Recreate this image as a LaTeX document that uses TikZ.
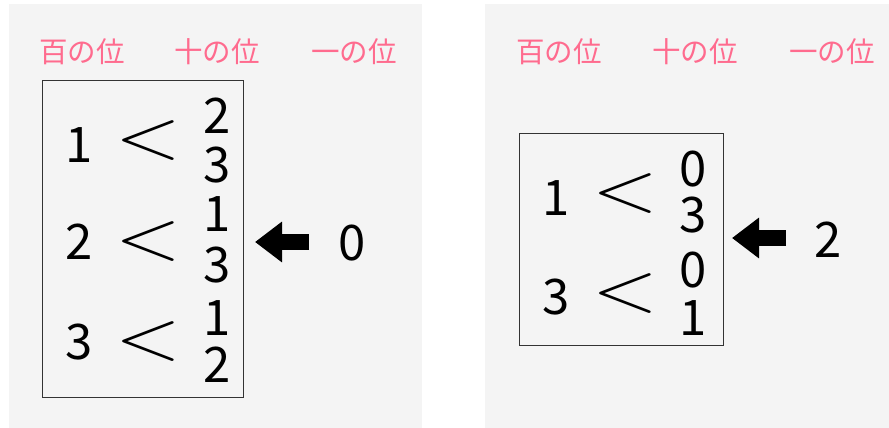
\documentclass[tikz,border=0pt]{standalone}
\usepackage{fontspec}
\newfontfamily\jp{Noto Sans CJK JP}
\usetikzlibrary{arrows.meta}
\definecolor{panel}{HTML}{F4F4F4}
\definecolor{pinklabel}{HTML}{FF6B8E}
\definecolor{boxline}{HTML}{333333}
\begin{document}
\begin{tikzpicture}[x=1pt,y=-1pt,
  head/.style={text=pinklabel,font=\jp\fontsize{28.5}{28.5}\selectfont,inner sep=0pt},
  digit/.style={font=\jp\fontsize{49}{49}\selectfont,inner sep=0pt},
  lessthan/.style={font=\rmfamily\fontsize{72}{72}\selectfont,inner sep=0pt},
  frame/.style={draw=boxline,line width=0.8pt,anchor=north west,inner sep=0pt},
  blockarrow/.style={line width=16pt,-{Triangle[length=27pt,width=39pt]}}
]
\useasboundingbox (0,0) rectangle (889,428);
\fill[panel] (9,4) rectangle (422,428);
\fill[panel] (485,4) rectangle (889,428);

% left panel
\node[head] (hA1) at (82,52) {百の位};
\node[head] (hA2) at (217,52) {十の位};
\node[head] (hA3) at (354,52) {一の位};
\node[frame,minimum width=201pt,minimum height=317pt] (boxA) at (42,80) {};
\node[digit] (a1) at (79,145) {1};
\node[lessthan] (la1) at (148,141) {\scalebox{1.2}[1]{<}};
\node[digit] (a1r1) at (217,116) {2};
\node[digit] (a1r2) at (217,165) {3};
\node[digit] (a2) at (79,242) {2};
\node[lessthan] (la2) at (148,242) {\scalebox{1.2}[1]{<}};
\node[digit] (a2r1) at (217,214) {1};
\node[digit] (a2r2) at (217,265) {3};
\node[digit] (a3) at (79,342) {3};
\node[lessthan] (la3) at (148,342) {\scalebox{1.2}[1]{<}};
\node[digit] (a3r1) at (217,318) {1};
\node[digit] (a3r2) at (217,365) {2};
\node[digit] (zeroA) at (352,243) {0};
\coordinate (tailA) at (309,242);
\coordinate (tipA) at (255,242);
\draw[blockarrow] (tailA) -- (tipA);

% right panel
\node[head] (hB1) at (559,52) {百の位};
\node[head] (hB2) at (695,52) {十の位};
\node[head] (hB3) at (832,52) {一の位};
\node[frame,minimum width=204pt,minimum height=212pt] (boxB) at (519,133) {};
\node[digit] (b1) at (556,198) {1};
\node[lessthan] (lb1) at (625,194) {\scalebox{1.2}[1]{<}};
\node[digit] (b1r1) at (693,169) {0};
\node[digit] (b1r2) at (693,215) {3};
\node[digit] (b2) at (556,297) {3};
\node[lessthan] (lb2) at (625,294) {\scalebox{1.2}[1]{<}};
\node[digit] (b2r1) at (693,270) {0};
\node[digit] (b2r2) at (693,318) {1};
\node[digit] (twoB) at (828,240) {2};
\coordinate (tailB) at (786,238);
\coordinate (tipB) at (732,238);
\draw[blockarrow] (tailB) -- (tipB);
\end{tikzpicture}
\end{document}
